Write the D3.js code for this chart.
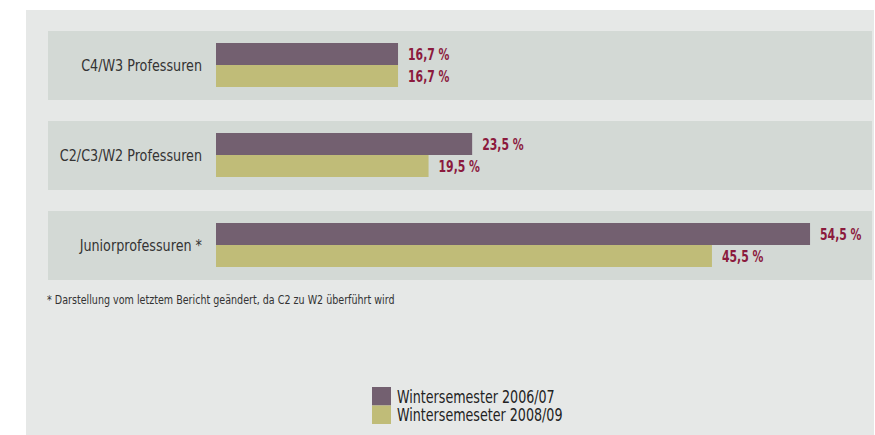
<!DOCTYPE html>
<html><head><meta charset="utf-8">
<script src="https://cdn.jsdelivr.net/npm/d3@7"></script>
<style>body{margin:0;background:#fff}svg{display:block}</style>
</head><body>
<svg id="c" width="875" height="435"></svg>
<script>
const categories = ["C4/W3 Professuren", "C2/C3/W2 Professuren", "Juniorprofessuren *"];
const seriesNames = ["Wintersemester 2006/07", "Wintersemeseter 2008/09"];
const values2006 = [16.7, 23.5, 54.5];
const values2008 = [16.7, 19.5, 45.5];
const footnote = "* Darstellung vom letztem Bericht geändert, da C2 zu W2 überführt wird";
const colors = ["#736070", "#c0bc78"];

const svg = d3.select("#c");
const font = "'DejaVu Sans Condensed','DejaVu Sans',sans-serif";

function ctext(sel, x, y, sx) {
  return sel.append("text").attr("transform", `translate(${x},${y}) scale(${sx},1)`).attr("font-family", font);
}

svg.append("rect").attr("x", 26).attr("y", 10).attr("width", 848).attr("height", 425).attr("fill", "#e6e8e7");

const y = d3.scaleBand().domain(categories).range([31, 280]).paddingInner(21 / 90).paddingOuter(0);
const x = d3.scaleLinear().domain([0, 60]).range([216, 870]);

const rows = svg.append("g").selectAll("g.row").data(categories).join("g").attr("class", "row")
  .attr("transform", d => `translate(0,${y(d)})`);

rows.append("rect").attr("x", 48).attr("y", 0).attr("width", 824).attr("height", y.bandwidth()).attr("fill", "#d3d9d5");

rows.each(function(d) {
  ctext(d3.select(this), 202, y.bandwidth() / 2, 0.86)
    .attr("dy", "0.36em").attr("text-anchor", "end").attr("font-size", 16.5).attr("fill", "#333").text(d);
});

const series = [values2006, values2008];
series.forEach((vals, si) => {
  const top = 12 + si * 22;
  rows.append("rect").attr("x", x(0)).attr("y", top)
    .attr("width", (d, i) => x(vals[i]) - x(0)).attr("height", 22).attr("fill", colors[si]);
  rows.each(function(d, i) {
    ctext(d3.select(this), x(vals[i]) + 10, top + 11, 0.78)
      .attr("dy", "0.36em").attr("font-size", 15.5).attr("font-weight", "bold").attr("fill", "#8b1a3d")
      .text(vals[i].toFixed(1).replace(".", ",") + " %");
  });
});

ctext(svg, 47, 304, 0.85).attr("font-size", 12.5).attr("fill", "#333").text(footnote);

const leg = svg.append("g").attr("transform", "translate(372,387)");
seriesNames.forEach((n, i) => {
  leg.append("rect").attr("x", 0).attr("y", i * 18.5).attr("width", 19).attr("height", 18.5).attr("fill", colors[i]);
  ctext(leg, 25, i * 18.5 + 9.5, 0.83).attr("dy", "0.36em").attr("font-size", 17).attr("fill", "#222").text(n);
});
</script>
</body></html>
